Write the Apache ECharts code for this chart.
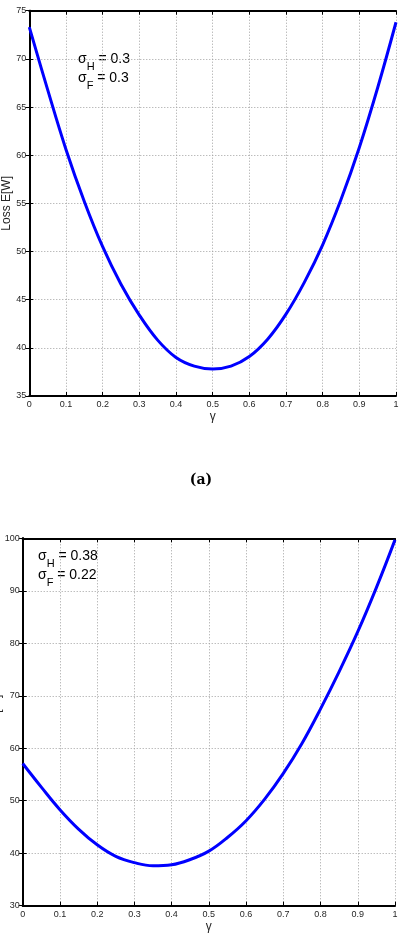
<!DOCTYPE html>
<html>
<head>
<meta charset="utf-8">
<script src="https://cdn.jsdelivr.net/npm/echarts@6/dist/echarts.min.js"></script>
<style>html,body{margin:0;padding:0;background:#fff;}#c{width:402px;height:952px;}</style>
</head>
<body>
<div id="c"></div>
<script>
var gammaValues = [0,0.05,0.1,0.15,0.2,0.25,0.3,0.35,0.4,0.45,0.5,0.55,0.6,0.65,0.7,0.75,0.8,0.85,0.9,0.95,1];
var lossTop = [73.3,66.8,60.6,55.2,50.5,46.6,43.4,40.8,39.0,38.1,37.8,38.1,39.1,40.9,43.5,46.8,50.7,55.4,60.8,67.0,73.8];
var lossBottom = [57.1,52.6,48.3,44.6,41.6,39.4,38.2,37.6,37.8,38.8,40.4,43.0,46.2,50.3,55.2,60.9,67.5,74.6,82.2,90.6,99.7];
var xTicks = [0,0.1,0.2,0.3,0.4,0.5,0.6,0.7,0.8,0.9,1];
var yTopRange = [35,75,5];
var yBottomRange = [30,100,10];
var labelTop = ['σ','H',' = 0.3','σ','F',' = 0.3'];
var labelBottom = ['σ','H',' = 0.38','σ','F',' = 0.22'];

function pairs(xs, ys){ return xs.map(function(x,i){ return [x, ys[i]]; }); }

var FONT = 'Liberation Sans';
var tickLbl = {fontSize: 9, color: '#262626', fontFamily: FONT};
var split = {show: true, lineStyle: {color: '#a0a0a0', width: 1, type: [1,2]}};
var frameLine = {show: true, lineStyle: {color: '#000', width: 2}};
var ticksIn = {show: true, inside: true, length: 4, lineStyle: {color: '#000', width: 1}};

function xAxes(gi){
  return [
    {type:'value', gridIndex:gi, min:0, max:1, interval:0.1, position:'bottom',
     axisLine: frameLine, axisTick: ticksIn, splitLine: split,
     axisLabel: Object.assign({margin:4, showMinLabel:true, showMaxLabel:true,
       formatter:function(v){ var r = Math.round(v*10)/10; return xTicks.indexOf(r) >= 0 ? String(r) : ''; }}, tickLbl),
     name:'γ', nameLocation:'middle', nameGap:15, nameMoveOverlap:false,
     nameTextStyle:{fontSize:12, color:'#262626', fontFamily:FONT}},
    {type:'value', gridIndex:gi, min:0, max:1, interval:0.1, position:'top',
     axisLine: frameLine, axisTick: ticksIn, splitLine:{show:false}, axisLabel:{show:false}}
  ];
}
function yAxes(gi, r, nameGap){
  return [
    {type:'value', gridIndex:gi, min:r[0], max:r[1], interval:r[2], position:'left',
     axisLine: frameLine, axisTick: ticksIn, splitLine: split,
     axisLabel: Object.assign({margin:3, showMinLabel:true, showMaxLabel:true}, tickLbl),
     name:'Loss E[W]', nameLocation:'middle', nameGap:nameGap, nameRotate:90, nameMoveOverlap:false,
     nameTextStyle:{fontSize:12, color:'#262626', fontFamily:FONT}},
    {type:'value', gridIndex:gi, min:r[0], max:r[1], interval:r[2], position:'right',
     axisLine: frameLine, axisTick: ticksIn, splitLine:{show:false}, axisLabel:{show:false}}
  ];
}

function sigmaText(parts){
  return '{m|' + parts[0] + '}{s|' + parts[1] + '}{m|' + parts[2] + '}\n{m|' + parts[3] + '}{s|' + parts[4] + '}{m|' + parts[5] + '}';
}
var richStyle = {
  m: {fontSize: 14, fontFamily: FONT, color: '#000', lineHeight: 19, verticalAlign: 'middle'},
  s: {fontSize: 11, fontFamily: FONT, color: '#000', lineHeight: 19, verticalAlign: 'bottom', padding:[0,0,-4,0]}
};

var chart = echarts.init(document.getElementById('c'), null, {renderer:'canvas'});
chart.setOption({
  animation: false,
  backgroundColor: '#fff',
  grid: [
    {left: 29.3, right: 6, top: 10.7, height: 385.3, containLabel:false, outerBoundsMode:'none'},
    {left: 22.7, right: 7, top: 538.3, height: 367.4, containLabel:false, outerBoundsMode:'none'}
  ],
  xAxis: xAxes(0).concat(xAxes(1)),
  yAxis: yAxes(0, yTopRange, 16.5).concat(yAxes(1, yBottomRange, 20)),
  series: [
    {type:'line', xAxisIndex:0, yAxisIndex:0, data: pairs(gammaValues, lossTop), smooth:0.4,
     showSymbol:false, lineStyle:{color:'#0000ff', width:3}},
    {type:'line', xAxisIndex:2, yAxisIndex:2, data: pairs(gammaValues, lossBottom), smooth:0.4,
     showSymbol:false, lineStyle:{color:'#0000ff', width:3}}
  ],
  graphic: [
    {type:'text', left: 78, top: 52, style:{text: sigmaText(labelTop), rich: richStyle}},
    {type:'text', left: 38, top: 549, style:{text: sigmaText(labelBottom), rich: richStyle}},
    {type:'text', left: 'center', top: 473, style:{text:'(a)', font:'bold 14px "DejaVu Serif"', fill:'#000'}}
  ]
});
</script>
</body>
</html>
